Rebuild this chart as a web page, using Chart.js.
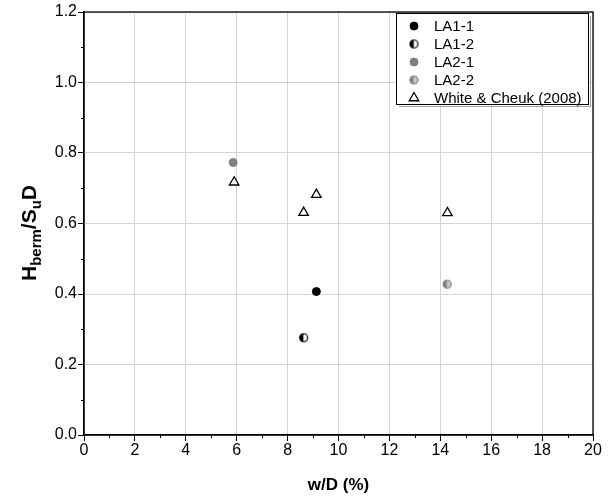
<!DOCTYPE html>
<html>
<head>
<meta charset="utf-8">
<script src="https://cdn.jsdelivr.net/npm/chart.js@4.4.0/dist/chart.umd.min.js"></script>
<style>
  html, body { margin: 0; padding: 0; background: #fff; }
  #wrap { width: 612px; height: 499px; }
</style>
</head>
<body>
<div id="wrap"><canvas id="myChart" width="612" height="499"></canvas></div>
<script>
// values
const seriesNames = ['LA1-1', 'LA1-2', 'LA2-1', 'LA2-2', 'White & Cheuk (2008)'];
const la11 = [{x: 9.13, y: 0.407}];
const la12 = [{x: 8.63, y: 0.276}];
const la21 = [{x: 5.86, y: 0.773}];
const la22 = [{x: 14.27, y: 0.428}];
const whiteCheuk = [{x: 5.9, y: 0.717}, {x: 8.63, y: 0.631}, {x: 9.13, y: 0.682}, {x: 14.28, y: 0.63}];
const xTicks = [0, 2, 4, 6, 8, 10, 12, 14, 16, 18, 20];
const yTicks = [0, 0.2, 0.4, 0.6, 0.8, 1.0, 1.2];

const FONT = "'Liberation Sans', Arial, sans-serif";

function halfDot(left, right, edge){
  const c = document.createElement('canvas');
  c.width = 11; c.height = 11;
  const g = c.getContext('2d');
  g.beginPath(); g.arc(5.5, 5.5, 4, Math.PI/2, Math.PI*1.5); g.closePath();
  g.fillStyle = left; g.fill();
  g.beginPath(); g.arc(5.5, 5.5, 4, -Math.PI/2, Math.PI/2); g.closePath();
  g.fillStyle = right; g.fill();
  g.beginPath(); g.arc(5.5, 5.5, 4, 0, Math.PI*2);
  g.lineWidth = 1.2; g.strokeStyle = edge; g.stroke();
  return c;
}
const halfBlack = halfDot('#000', '#fff', '#000');
const halfGray = halfDot('#808080', '#c8c8c8', '#808080');

// frame, minor ticks, axis titles and boxed legend
const extras = {
  id: 'extras',
  afterDraw(chart){
    const ctx = chart.ctx, a = chart.chartArea;
    const xs = chart.scales.x, ys = chart.scales.y;
    ctx.save();
    ctx.strokeStyle = '#000'; ctx.lineWidth = 1.3;
    ctx.strokeRect(a.left, a.top, a.right - a.left, a.bottom - a.top);
    ctx.lineWidth = 1;
    ctx.beginPath();
    for (let v = 1; v < 20; v += 2){
      const px = Math.round(xs.getPixelForValue(v)) + 0.5;
      ctx.moveTo(px, a.bottom); ctx.lineTo(px, a.bottom + 3);
    }
    for (let v = 0.1; v < 1.2; v += 0.2){
      const py = Math.round(ys.getPixelForValue(v)) + 0.5;
      ctx.moveTo(a.left - 3, py); ctx.lineTo(a.left, py);
    }
    ctx.stroke();

    // x title
    ctx.fillStyle = '#000';
    ctx.font = 'bold 17px ' + FONT;
    ctx.textAlign = 'center'; ctx.textBaseline = 'alphabetic';
    ctx.fillText('w/D (%)', (a.left + a.right)/2, 490);

    // y title with subscripts
    ctx.save();
    ctx.translate(36, 233);
    ctx.rotate(-Math.PI/2);
    const parts = [['H', 21, 0], ['berm', 15, 5], ['/S', 21, 0], ['u', 15, 5], ['D', 21, 0]];
    let w = 0;
    parts.forEach(p => { ctx.font = 'bold ' + p[1] + 'px ' + FONT; w += ctx.measureText(p[0]).width; });
    let x = -w/2;
    ctx.textAlign = 'left';
    parts.forEach(p => {
      ctx.font = 'bold ' + p[1] + 'px ' + FONT;
      ctx.fillText(p[0], x, p[2]);
      x += ctx.measureText(p[0]).width;
    });
    ctx.restore();

    // legend box
    const bx = 396, by = 13, bw = 192, bh = 91;
    ctx.fillStyle = '#fff';
    ctx.fillRect(bx, by, bw, bh);
    ctx.strokeStyle = '#a0a0a0'; ctx.lineWidth = 1;
    ctx.beginPath();
    ctx.moveTo(bx + bw + 2.5, by + 3); ctx.lineTo(bx + bw + 2.5, by + bh + 2.5); ctx.lineTo(bx + 3, by + bh + 2.5);
    ctx.stroke();
    ctx.strokeStyle = '#000';
    ctx.strokeRect(bx + 0.5, by + 0.5, bw, bh);
    ctx.font = '15px ' + FONT;
    ctx.textAlign = 'left'; ctx.textBaseline = 'middle';
    chart.data.datasets.forEach((ds, i) => {
      const ly = 26 + i * 18;
      const st = chart.getDatasetMeta(i).data[0].options;
      const mx = 414;
      if (typeof st.pointStyle === 'string'){
        ctx.fillStyle = ds.backgroundColor;
        ctx.strokeStyle = ds.borderColor;
        ctx.lineWidth = ds.borderWidth;
        ctx.beginPath();
        if (st.pointStyle === 'triangle'){
          const r = st.radius;
          ctx.moveTo(mx, ly - r); ctx.lineTo(mx + r*0.87, ly + r*0.5); ctx.lineTo(mx - r*0.87, ly + r*0.5); ctx.closePath();
        } else {
          ctx.arc(mx, ly, st.radius, 0, Math.PI*2);
        }
        ctx.fill(); ctx.stroke();
      } else {
        ctx.drawImage(st.pointStyle, mx - st.pointStyle.width/2, ly - st.pointStyle.height/2);
      }
      ctx.fillStyle = '#000';
      ctx.fillText(ds.label, 434, ly + 1);
    });
    ctx.restore();
  }
};

new Chart(document.getElementById('myChart'), {
  type: 'scatter',
  data: {
    datasets: [
      { label: seriesNames[0], data: la11, pointStyle: 'circle', radius: 4, backgroundColor: '#000', borderColor: '#000', borderWidth: 1 },
      { label: seriesNames[1], data: la12, pointStyle: halfBlack, radius: 4, backgroundColor: '#000', borderColor: '#000', borderWidth: 1 },
      { label: seriesNames[2], data: la21, pointStyle: 'circle', radius: 4, backgroundColor: '#808080', borderColor: '#808080', borderWidth: 1 },
      { label: seriesNames[3], data: la22, pointStyle: halfGray, radius: 4, backgroundColor: '#808080', borderColor: '#808080', borderWidth: 1 },
      { label: seriesNames[4], data: whiteCheuk, pointStyle: 'triangle', radius: 5.5, backgroundColor: '#fff', borderColor: '#000', borderWidth: 1.3 }
    ]
  },
  options: {
    responsive: false,
    animation: false,
    events: [],
    layout: { padding: { top: 12, right: 19, left: 0, bottom: 0 } },
    plugins: { legend: { display: false }, tooltip: { enabled: false } },
    scales: {
      x: {
        min: 0, max: 20,
        afterBuildTicks: s => { s.ticks = xTicks.map(v => ({value: v})); },
        afterFit: s => { s.height = 64; },
        ticks: { color: '#000', font: { family: FONT, size: 16 }, padding: 0, maxRotation: 0, callback: v => v },
        grid: { color: '#d4d4d4', tickColor: '#000', tickLength: 6, lineWidth: 1 },
        border: { display: true, color: '#000', width: 1.3 }
      },
      y: {
        min: 0, max: 1.2,
        afterBuildTicks: s => { s.ticks = yTicks.map(v => ({value: v})); },
        afterFit: s => { s.width = 84; },
        ticks: { color: '#000', font: { family: FONT, size: 16 }, padding: 1, callback: v => v.toFixed(1) },
        grid: { color: '#d4d4d4', tickColor: '#000', tickLength: 6, lineWidth: 1 },
        border: { display: true, color: '#000', width: 1.3 }
      }
    }
  },
  plugins: [extras]
});
</script>
</body>
</html>
